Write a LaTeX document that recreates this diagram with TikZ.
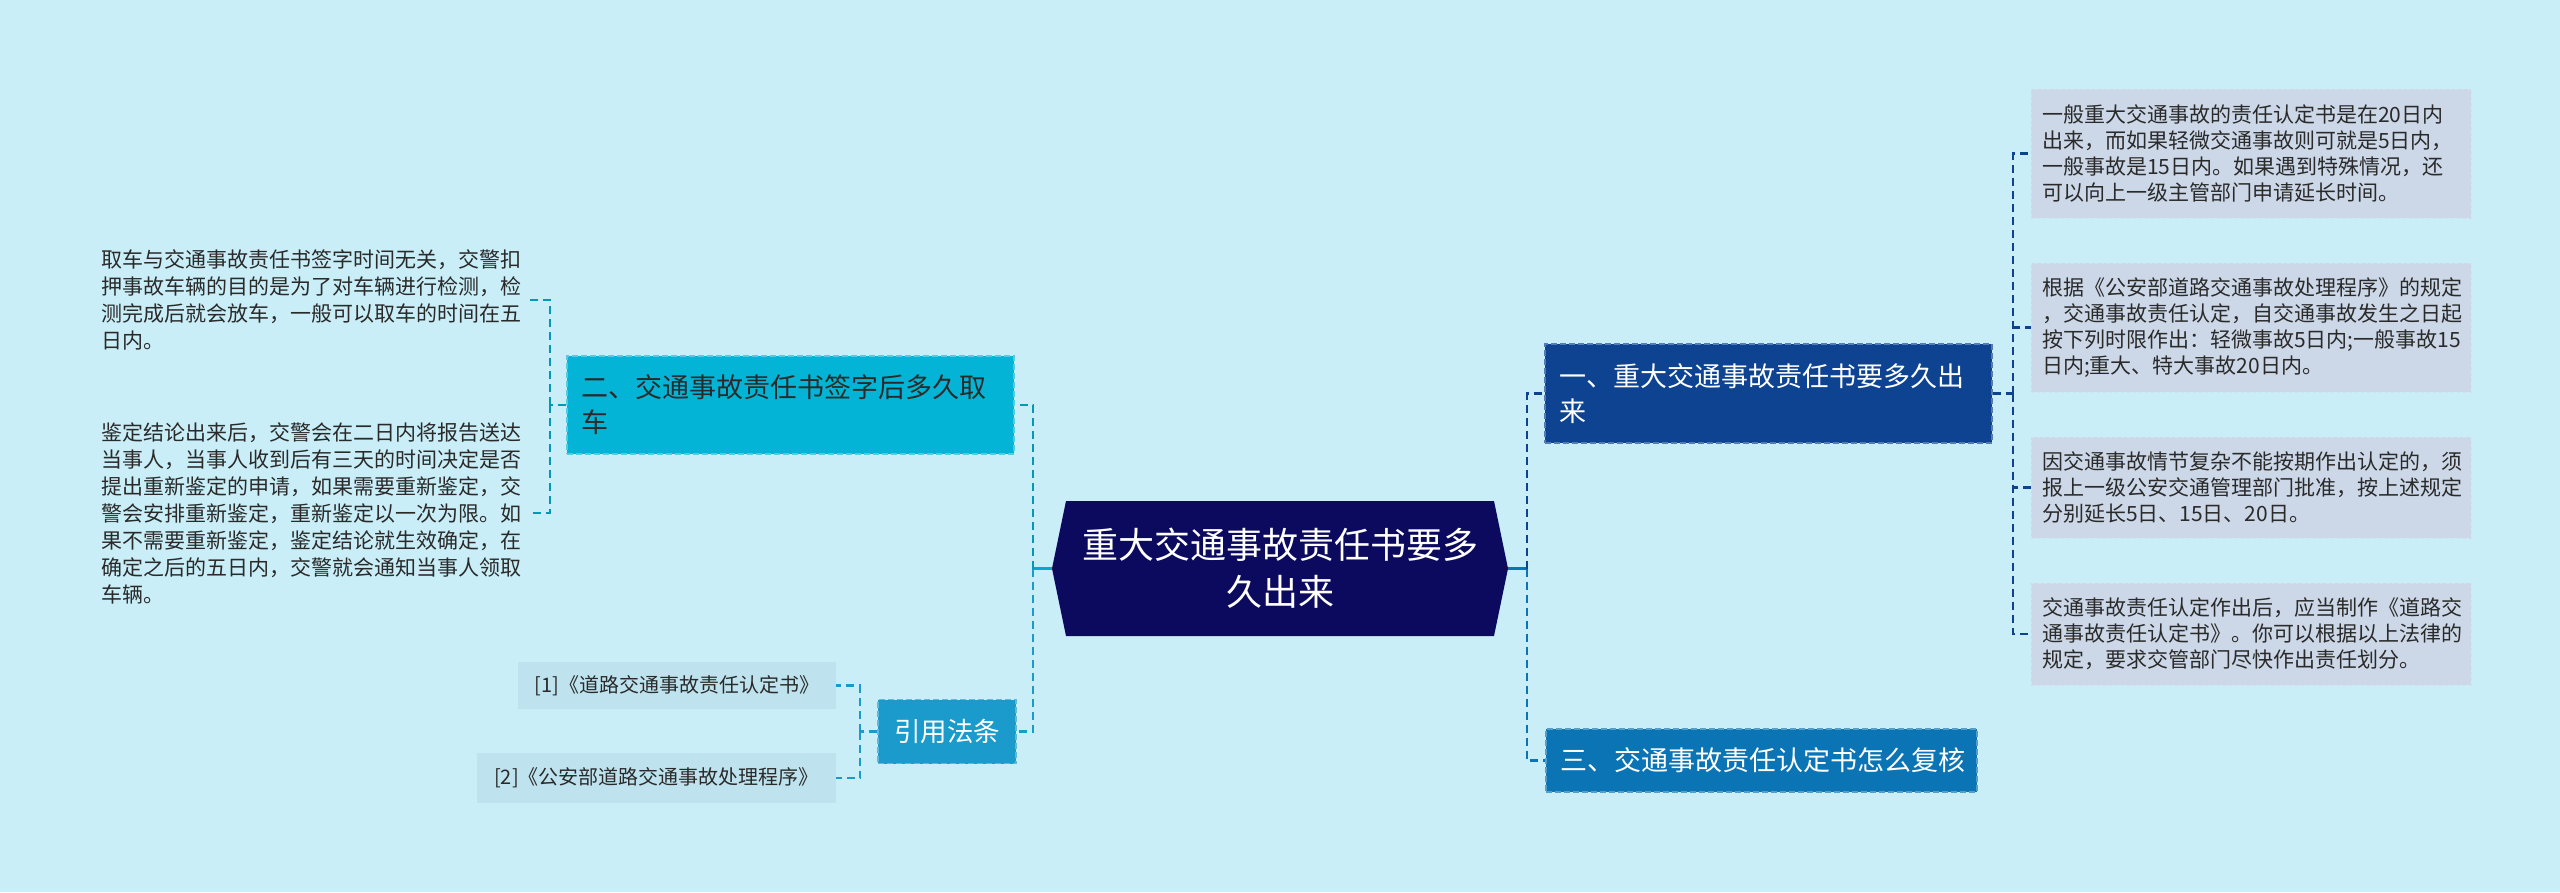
\documentclass[tikz,border=0pt]{standalone}
\usepackage{fontspec}
\setmainfont{Noto Sans CJK SC}
\usepackage{xcolor}
\usetikzlibrary{calc}
\definecolor{bgc}{HTML}{C9EEF7}
\definecolor{rootc}{HTML}{0B0A5E}
\definecolor{onec}{HTML}{0D4390}
\definecolor{twoc}{HTML}{04B4D6}
\definecolor{threec}{HTML}{0B74B4}
\definecolor{citec}{HTML}{1A9BCB}
\definecolor{notec}{HTML}{CCD8E8}
\definecolor{refc}{HTML}{BEE3EE}
\definecolor{txtc}{HTML}{2A2A2A}

\begin{document}
\begin{tikzpicture}[x=1pt,y=-1pt,
  topic/.style={rectangle,inner xsep=14pt,inner ysep=0pt,align=left,
    font=\fontsize{27}{35}\selectfont,draw,dashed,line width=1.2pt,
    dash pattern=on 6pt off 3pt},
  note/.style={rectangle,fill=notec,draw=notec!80!white,dashed,line width=1pt,
    inner xsep=11pt,inner ysep=0pt,text width=418pt,minimum width=440pt,align=left,
    text=txtc,font=\fontsize{21}{26}\selectfont},
  plain/.style={rectangle,inner xsep=10pt,text width=418pt,align=left,
    text=txtc,font=\fontsize{21}{27}\selectfont},
  ref/.style={rectangle,fill=refc,inner sep=0pt,align=center,
    text=txtc,font=\fontsize{20}{24}\selectfont},
  link/.style={line width=2.4pt,dash pattern=on 8pt off 5pt}]
  \fill[bgc] (0,0) rectangle (2560,892);
  \useasboundingbox (0,0) rectangle (2560,892);
  \fill[rootc] (1052,568.5) -- (1066,501) -- (1494,501) -- (1508,568.5)
    -- (1494,636) -- (1066,636) -- cycle;
  \node[rectangle,minimum width=428pt,minimum height=135pt,align=center,text=white,
    font=\fontsize{36}{47}\selectfont] (root) at (1280,568.5)
    {重大交通事故责任书要多\\久出来};
  \coordinate (rootL) at ($(root.west)+(-14,0)$);
  \coordinate (rootR) at ($(root.east)+(14,0)$);

  \node[topic,fill=onec,draw=onec!70!white,text=white,text width=419pt,minimum height=99pt]
    (one) at (1768.5,393.5) {一、重大交通事故责任书要多久出\\来};
  \node[topic,fill=twoc,draw=twoc!60!bgc,text=txtc,text width=419pt,minimum height=98pt]
    (two) at (790.5,405) {二、交通事故责任书签字后多久取\\车};
  \node[topic,fill=threec,draw=threec!70!white,text=white,text width=403pt,minimum height=63pt]
    (three) at (1761.5,760.5) {三、交通事故责任认定书怎么复核};
  \node[topic,fill=citec,draw=citec!70!white,text=white,align=center,inner xsep=0pt,
    minimum width=138pt,minimum height=64pt,font=\fontsize{26.5}{30}\selectfont]
    (cite) at (947,731.5) {引用法条};

  \node[note,minimum height=129pt] (n1) at (2251,153.5)
    {一般重大交通事故的责任认定书是在20日内\\出来，而如果轻微交通事故则可就是5日内，\\一般事故是15日内。如果遇到特殊情况，还\\可以向上一级主管部门申请延长时间。};
  \node[note,minimum height=129pt] (n2) at (2251,327.5)
    {根据《公安部道路交通事故处理程序》的规定\\，交通事故责任认定，自交通事故发生之日起\\按下列时限作出：轻微事故5日内;一般事故15\\日内;重大、特大事故20日内。};
  \node[note,minimum height=101pt] (n3) at (2251,487.5)
    {因交通事故情节复杂不能按期作出认定的，须\\报上一级公安交通管理部门批准，按上述规定\\分别延长5日、15日、20日。};
  \node[note,minimum height=102pt] (n4) at (2251,634)
    {交通事故责任认定作出后，应当制作《道路交\\通事故责任认定书》。你可以根据以上法律的\\规定，要求交管部门尽快作出责任划分。};

  \node[plain,anchor=east] (m1) at (530,300)
    {取车与交通事故责任书签字时间无关，交警扣\\押事故车辆的目的是为了对车辆进行检测，检\\测完成后就会放车，一般可以取车的时间在五\\日内。};
  \node[plain,anchor=east] (m2) at (530,513)
    {鉴定结论出来后，交警会在二日内将报告送达\\当事人，当事人收到后有三天的时间决定是否\\提出重新鉴定的申请，如果需要重新鉴定，交\\警会安排重新鉴定，重新鉴定以一次为限。如\\果不需要重新鉴定，鉴定结论就生效确定，在\\确定之后的五日内，交警就会通知当事人领取\\车辆。};

  \node[ref,minimum width=318pt,minimum height=47pt] (r1) at (677,685.5)
    {[1]《道路交通事故责任认定书》};
  \node[ref,minimum width=359pt,minimum height=50pt] (r2) at (656.5,778)
    {[2]《公安部道路交通事故处理程序》};

  \coordinate (trunkL) at (1033,568.5);
  \coordinate (trunkR) at (1527,568.5);
  \coordinate (jone) at (2013,393.5);
  \coordinate (jtwo) at (550,405);
  \coordinate (jcite) at (860,731.5);

  \draw[line width=2.4pt,twoc!80!threec] (rootL) -- (trunkL);
  \draw[line width=2.4pt,threec] (rootR) -- (trunkR);
  \draw[link,twoc!85!black] (trunkL) |- (two.east);
  \draw[link,citec] (trunkL) |- (cite.east);
  \draw[link,onec] (trunkR) |- (one.west);
  \draw[link,threec] (trunkR) |- (three.west);

  \draw[link,onec] (one.east) -- (jone);
  \foreach \n in {n1,n2,n3,n4}
    \draw[link,onec] (jone) |- (\n.west);
  \draw[link,twoc!85!black] (two.west) -- (jtwo);
  \foreach \m in {m1,m2}
    \draw[link,twoc!85!black] (jtwo) |- (\m.east);
  \draw[link,citec] (cite.west) -- (jcite);
  \foreach \r in {r1,r2}
    \draw[link,citec] (jcite) |- (\r.east);
\end{tikzpicture}
\end{document}
